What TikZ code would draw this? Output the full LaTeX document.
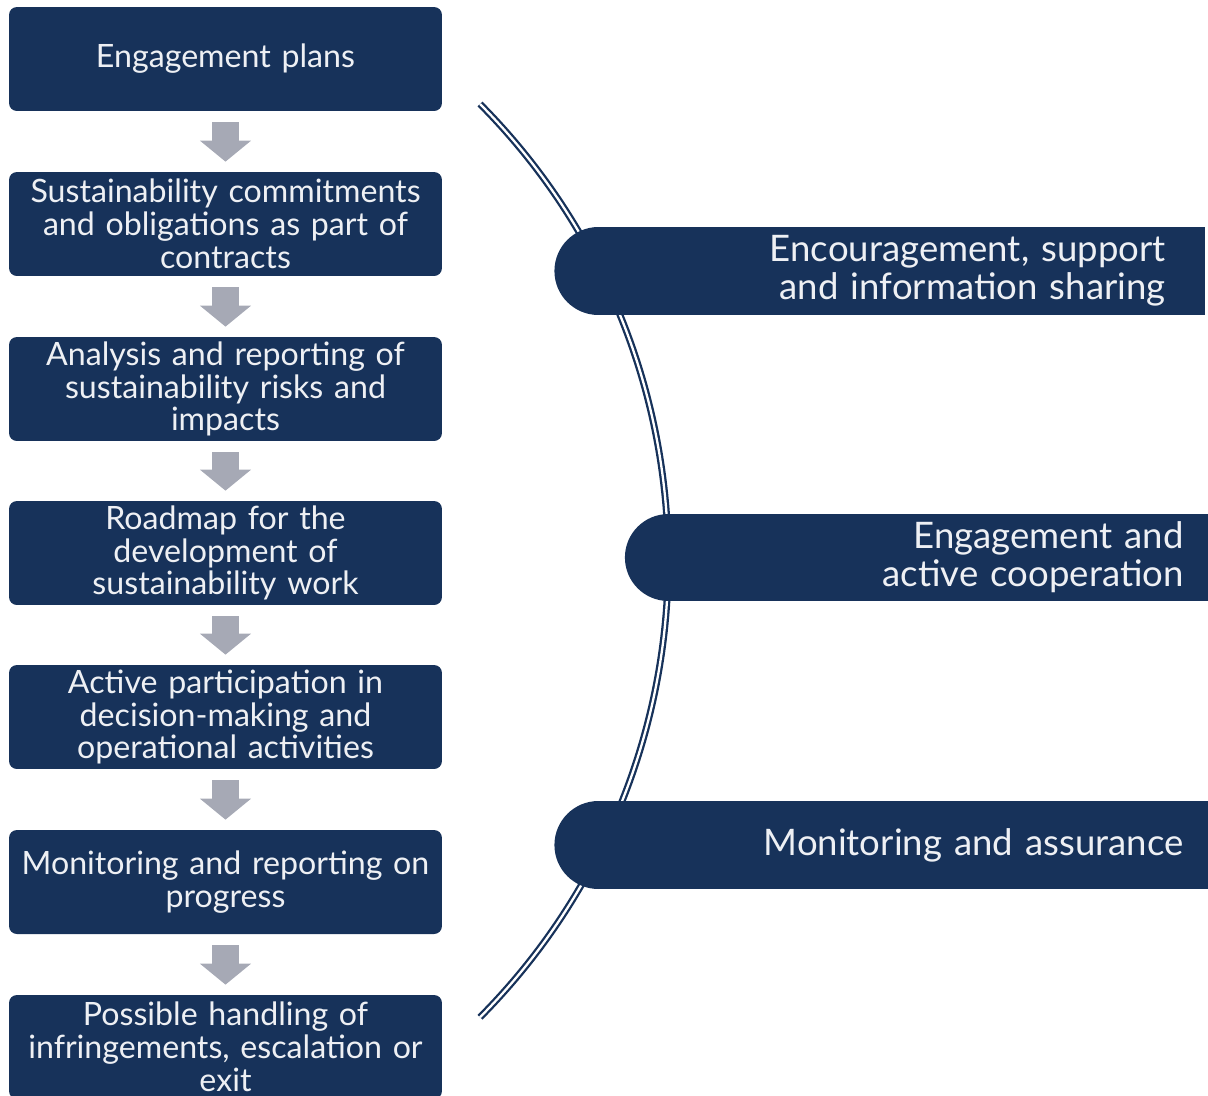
\documentclass[tikz,border=0pt]{standalone}
\usepackage{fontspec}
\setmainfont{Lato}
\usepackage{tikz}
\usetikzlibrary{arrows.meta}

\definecolor{navy}{HTML}{17325A}
\definecolor{stepgray}{HTML}{A6A9B5}
\definecolor{paper}{HTML}{EEF0F4}

\begin{document}
\begin{tikzpicture}[x=0.02cm, y=-0.02cm,
    box/.style={shape=rectangle, fill=navy, text=paper, rounded corners=4.5pt,
        minimum width=8.66cm, minimum height=2.08cm, text width=8.4cm, inner sep=0pt,
        align=center, font=\fontsize{18.3}{18.7}\selectfont},
    goal/.style={shape=rectangle, fill=navy, text=paper, minimum height=1.76cm,
        inner ysep=0pt, align=right, font=\fontsize{20.8}{21.5}\selectfont},
    flow/.style={color=stepgray, line width=0.56cm, shorten <=0.22cm, shorten >=0.2cm,
        -{Triangle[width=1cm, length=0.42cm, fill=stepgray]}},
    goalend/.style={fill=navy}]
    \useasboundingbox (0,0) rectangle (1208,1096);
    \clip (0,0) rectangle (1208,1096);

    % the bracket behind the three right boxes
    \draw[draw=navy, line width=1.3pt, double=white, double distance=1.3pt]
        (480,104) arc[start angle=44.8, end angle=-44.8, radius=12.964cm];

    \node[box] (b1) at (225.5,59) {Engagement plans};
    \node[box] (b2) at (225.5,224) {Sustainability commitments\\ and obligations as part of\\ contracts};
    \node[box] (b3) at (225.5,389) {Analysis and reporting of\\ sustainability risks and\\ impacts};
    \node[box] (b4) at (225.5,553) {Roadmap for the\\ development of\\ sustainability work};
    \node[box] (b5) at (225.5,717) {Active participation in\\ decision-making and\\ operational activities};
    \node[box] (b6) at (225.5,882) {Monitoring and reporting on\\ progress};
    \node[box] (b7) at (225.5,1047) {Possible handling of\\ infringements, escalation or\\ exit};

    \path [flow] (b1) edge (b2)
        (b2) edge (b3)
        (b3) edge (b4)
        (b4) edge (b5)
        (b5) edge (b6)
        (b6) edge (b7);

    \node[goal, anchor=east, inner xsep=0.78cm, text width=10.56cm] (enc) at (1205,271)
        {Encouragement, support\\ and information sharing};
    \node[goal, anchor=east, inner xsep=0.48cm, text width=9.82cm] (eng) at (1208,557.5)
        {Engagement and\\ active cooperation};
    \node[goal, anchor=east, inner xsep=0.48cm, text width=11.22cm] (mon) at (1208,845)
        {Monitoring and assurance};

    \fill[goalend] (enc.west) circle[radius=0.88cm];
    \fill[goalend] (eng.west) circle[radius=0.87cm];
    \fill[goalend] (mon.west) circle[radius=0.88cm];
\end{tikzpicture}
\end{document}
